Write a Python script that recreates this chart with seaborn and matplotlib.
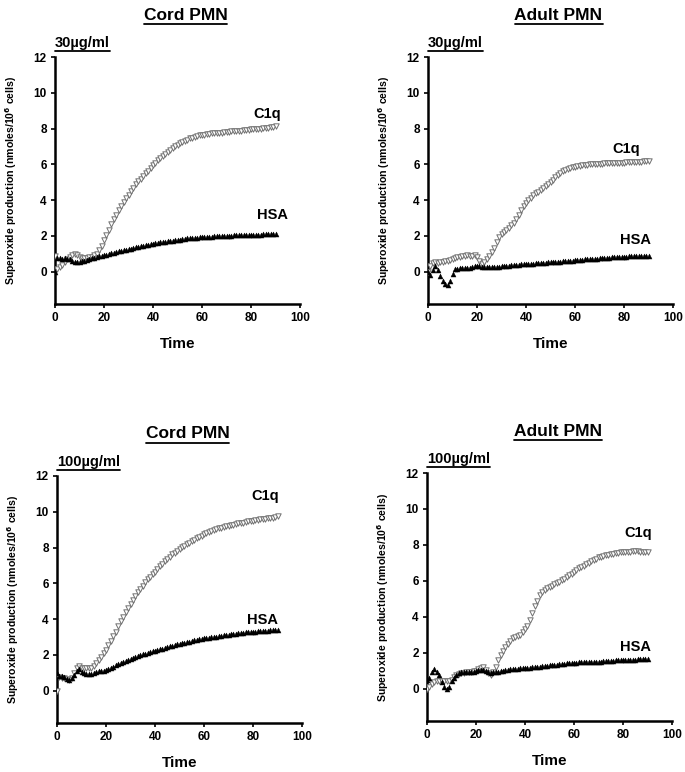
import matplotlib
matplotlib.use("Agg")
import matplotlib.pyplot as plt
from matplotlib.lines import Line2D
import seaborn as sns

# -----------------------------
# Data
# -----------------------------
time = list(range(0, 91))

cord30_c1q = [0.9, 0.15, 0.25, 0.4, 0.55, 0.7, 0.85, 0.95, 1.02, 0.95,
              0.85, 0.78, 0.75, 0.77, 0.8, 0.85, 0.92, 1.0, 1.2, 1.45,
              1.75, 2.05, 2.35, 2.65, 2.95, 3.2, 3.45, 3.7, 3.9, 4.1,
              4.3, 4.5, 4.7, 4.9, 5.05, 5.2, 5.35, 5.5, 5.65, 5.8,
              5.95, 6.1, 6.22, 6.35, 6.48, 6.6, 6.72, 6.83, 6.93, 7.02,
              7.1, 7.18, 7.25, 7.32, 7.38, 7.45, 7.5, 7.55, 7.6, 7.62,
              7.65, 7.67, 7.7, 7.72, 7.74, 7.75, 7.77, 7.78, 7.78, 7.8,
              7.8, 7.82, 7.84, 7.85, 7.86, 7.88, 7.88, 7.9, 7.92, 7.93,
              7.95, 7.96, 7.98, 7.98, 8.0, 8.02, 8.04, 8.06, 8.08, 8.1,
              8.15]
cord30_hsa = [0.0, 0.75, 0.75, 0.74, 0.75, 0.74, 0.73, 0.6, 0.55, 0.55,
              0.56, 0.58, 0.62, 0.66, 0.7, 0.75, 0.78, 0.82, 0.86, 0.9,
              0.93, 0.96, 1.0, 1.03, 1.07, 1.1, 1.14, 1.17, 1.2, 1.24,
              1.27, 1.3, 1.33, 1.36, 1.39, 1.42, 1.45, 1.48, 1.5, 1.53,
              1.56, 1.59, 1.61, 1.64, 1.66, 1.68, 1.7, 1.72, 1.74, 1.76,
              1.78, 1.8, 1.82, 1.84, 1.86, 1.88, 1.88, 1.9, 1.91, 1.92,
              1.93, 1.94, 1.95, 1.96, 1.97, 1.98, 1.98, 1.99, 2.0, 2.0,
              2.01, 2.02, 2.02, 2.03, 2.03, 2.04, 2.04, 2.05, 2.05, 2.06,
              2.06, 2.07, 2.07, 2.08, 2.08, 2.1, 2.09, 2.1, 2.1, 2.11,
              2.12]

adult30_c1q = [0.0, 0.35, 0.5, 0.52, 0.5, 0.52, 0.55, 0.58, 0.62, 0.66,
               0.7, 0.75, 0.8, 0.85, 0.9, 0.9, 0.92, 0.9, 0.88, 0.92,
               0.85, 0.6, 0.45, 0.55, 0.72, 0.9, 1.1, 1.35, 1.65, 1.95,
               2.1, 2.25, 2.35, 2.45, 2.6, 2.75, 2.95, 3.2, 3.45, 3.7,
               3.85, 4.0, 4.15, 4.28, 4.38, 4.48, 4.58, 4.68, 4.78, 4.9,
               5.02, 5.15, 5.3, 5.42, 5.52, 5.62, 5.7, 5.75, 5.8, 5.85,
               5.88, 5.9, 5.92, 5.94, 5.96, 5.98, 6.0, 6.0, 6.01, 6.02,
               6.03, 6.04, 6.05, 6.05, 6.06, 6.07, 6.08, 6.08, 6.09, 6.1,
               6.1, 6.11, 6.12, 6.12, 6.13, 6.14, 6.15, 6.16, 6.17, 6.18,
               6.2]
adult30_hsa = [0.0, -0.2, 0.1, 0.3, 0.1, -0.25, -0.5, -0.68, -0.72, -0.5,
               -0.15, 0.15, 0.18, 0.2, 0.2, 0.2, 0.22, 0.22, 0.25, 0.3,
               0.32, 0.3, 0.28, 0.25, 0.25, 0.24, 0.24, 0.24, 0.25, 0.28,
               0.3, 0.32, 0.33, 0.35, 0.36, 0.38, 0.39, 0.4, 0.41, 0.42,
               0.43, 0.44, 0.45, 0.46, 0.47, 0.48, 0.49, 0.5, 0.51, 0.52,
               0.53, 0.54, 0.55, 0.56, 0.57, 0.58, 0.6, 0.61, 0.62, 0.63,
               0.65, 0.66, 0.67, 0.68, 0.69, 0.7, 0.71, 0.72, 0.73, 0.74,
               0.75, 0.76, 0.77, 0.78, 0.79, 0.8, 0.81, 0.82, 0.83, 0.84,
               0.85, 0.85, 0.86, 0.86, 0.87, 0.87, 0.88, 0.88, 0.89, 0.9,
               0.9]

cord100_c1q = [0.0, 0.75, 0.72, 0.7, 0.65, 0.6, 0.7, 1.0, 1.3, 1.4,
               1.3, 1.25, 1.25, 1.25, 1.3, 1.4, 1.55, 1.7, 1.9, 2.1,
               2.3, 2.55, 2.8, 3.05, 3.3, 3.6, 3.9, 4.15, 4.4, 4.65,
               4.85, 5.1, 5.3, 5.5, 5.7, 5.88, 6.05, 6.22, 6.38, 6.52,
               6.66, 6.8, 6.95, 7.1, 7.25, 7.38, 7.5, 7.62, 7.72, 7.82,
               7.92, 8.02, 8.11, 8.2, 8.28, 8.36, 8.45, 8.53, 8.6, 8.67,
               8.74, 8.8, 8.86, 8.92, 8.97, 9.02, 9.07, 9.11, 9.15, 9.19,
               9.23, 9.26, 9.29, 9.32, 9.35, 9.37, 9.4, 9.43, 9.46, 9.48,
               9.5, 9.53, 9.55, 9.58, 9.6, 9.62, 9.64, 9.66, 9.68, 9.72,
               9.75]
cord100_hsa = [1.0, 0.85, 0.8, 0.75, 0.65, 0.6, 0.7, 0.9, 1.1, 1.2,
               1.05, 0.98, 0.95, 0.95, 0.95, 1.0, 1.05, 1.08, 1.1, 1.12,
               1.15, 1.2, 1.27, 1.35, 1.42, 1.5, 1.56, 1.62, 1.68, 1.74,
               1.8, 1.85, 1.9, 1.95, 2.0, 2.04, 2.08, 2.12, 2.16, 2.2,
               2.24, 2.28, 2.32, 2.36, 2.4, 2.44, 2.48, 2.52, 2.56, 2.6,
               2.63, 2.66, 2.69, 2.72, 2.75, 2.78, 2.81, 2.84, 2.87, 2.9,
               2.93, 2.95, 2.97, 2.99, 3.01, 3.03, 3.05, 3.07, 3.09, 3.11,
               3.13, 3.15, 3.17, 3.19, 3.21, 3.23, 3.24, 3.26, 3.27, 3.28,
               3.3, 3.31, 3.32, 3.33, 3.34, 3.35, 3.36, 3.37, 3.38, 3.39,
               3.4]

adult100_c1q = [0.0, 0.1, 0.25, 0.35, 0.4, 0.4, 0.4, 0.4, 0.42, 0.42,
                0.5, 0.65, 0.75, 0.8, 0.85, 0.88, 0.9, 0.92, 0.95, 0.97,
                1.0, 1.08, 1.15, 1.2, 1.05, 0.85, 0.75, 0.95, 1.2, 1.6,
                1.9, 2.1, 2.3, 2.5, 2.65, 2.8, 2.85, 2.92, 3.0, 3.15,
                3.3, 3.5, 3.8, 4.2, 4.6, 4.9, 5.2, 5.4, 5.5, 5.58,
                5.65, 5.72, 5.8, 5.88, 5.95, 6.02, 6.1, 6.2, 6.3, 6.4,
                6.5, 6.6, 6.7, 6.78, 6.85, 6.92, 7.0, 7.08, 7.15, 7.22,
                7.3, 7.35, 7.4, 7.43, 7.46, 7.5, 7.52, 7.54, 7.56, 7.58,
                7.6, 7.61, 7.62, 7.63, 7.64, 7.65, 7.64, 7.63, 7.62, 7.61,
                7.6]
adult100_hsa = [0.5, 0.6, 0.9, 1.1, 0.9, 0.75, 0.35, 0.1, 0.0, 0.1,
                0.4, 0.6, 0.75, 0.85, 0.9, 0.9, 0.9, 0.9, 0.92, 0.95,
                1.0, 1.03, 1.05, 1.03, 1.0, 0.9, 0.85, 0.9, 0.95, 0.95,
                0.97, 1.0, 1.02, 1.05, 1.07, 1.1, 1.11, 1.12, 1.13, 1.14,
                1.15, 1.16, 1.17, 1.19, 1.2, 1.22, 1.23, 1.25, 1.27, 1.28,
                1.3, 1.31, 1.33, 1.34, 1.36, 1.37, 1.39, 1.4, 1.42, 1.43,
                1.45, 1.45, 1.46, 1.46, 1.47, 1.47, 1.48, 1.48, 1.49, 1.49,
                1.5, 1.51, 1.52, 1.53, 1.54, 1.55, 1.56, 1.57, 1.58, 1.59,
                1.6, 1.6, 1.61, 1.61, 1.62, 1.62, 1.63, 1.63, 1.64, 1.64,
                1.65]

titles = ["Cord PMN", "Adult PMN", "Cord PMN", "Adult PMN"]
doses = ["30µg/ml", "30µg/ml", "100µg/ml", "100µg/ml"]
c1q_series = [cord30_c1q, adult30_c1q, cord100_c1q, adult100_c1q]
hsa_series = [cord30_hsa, adult30_hsa, cord100_hsa, adult100_hsa]
# label positions (data coords) for C1q / HSA
c1q_pos = [(86.5, 8.8), (81, 6.85), (85, 10.9), (86, 8.65)]
hsa_pos = [(88.6, 3.2), (84.5, 1.8), (84, 3.95), (85, 2.3)]

# -----------------------------
# Figure
# -----------------------------
sns.set_style("white")
plt.rcParams["font.family"] = ["Liberation Sans", "DejaVu Sans"]
plt.rcParams["font.weight"] = "bold"
plt.rcParams["text.color"] = "black"
plt.rcParams["axes.labelcolor"] = "black"
plt.rcParams["xtick.color"] = "black"
plt.rcParams["ytick.color"] = "black"

fig = plt.figure(figsize=(6.85, 7.72), dpi=100)
W, H = 685, 772
# axes boxes in pixels: left, top, right, bottom
boxes = [(55, 57, 300, 304), (428, 57, 673, 304),
         (57, 476, 302, 723), (427, 473, 672, 721)]

underline_texts = []
for i, (l, t, r, b) in enumerate(boxes):
    ax = fig.add_axes([l / W, 1 - b / H, (r - l) / W, (b - t) / H])
    sns.scatterplot(x=time, y=c1q_series[i], ax=ax, marker="v", s=15,
                    facecolor="white", edgecolor="#707070", linewidth=0.7, zorder=3)
    sns.scatterplot(x=time, y=hsa_series[i], ax=ax, marker="^", s=13,
                    color="black", edgecolor="black", linewidth=0.3, zorder=4)
    ax.set_xlim(0, 100)
    ax.set_ylim(-1.8, 12)
    ax.set_xticks([0, 20, 40, 60, 80, 100])
    ax.set_yticks([0, 2, 4, 6, 8, 10, 12])
    ax.tick_params(direction="out", length=3, width=1.2, labelsize=8.5, pad=3,
                   left=True, bottom=True, colors="black")
    for lab in ax.get_xticklabels() + ax.get_yticklabels():
        lab.set_fontweight("bold")
    sns.despine(ax=ax)
    for sp in ["left", "bottom"]:
        ax.spines[sp].set_linewidth(1.8)
        ax.spines[sp].set_color("black")
    ax.set_xlabel("Time", fontsize=11, fontweight="bold", labelpad=9)
    ax.set_ylabel(r"Superoxide production (nmoles/10$^{\mathbf{6}}$ cells)",
                  fontsize=7.6, fontweight="bold")
    ax.yaxis.set_label_coords(-0.145, 0.5)
    ax.text(c1q_pos[i][0], c1q_pos[i][1], "C1q", fontsize=10.5, fontweight="bold",
            ha="center", va="center")
    ax.text(hsa_pos[i][0], hsa_pos[i][1], "HSA", fontsize=10.5, fontweight="bold",
            ha="center", va="center")
    # dose label above the axes
    d = ax.text(0.0, 1.03, doses[i], transform=ax.transAxes, fontsize=10.5,
                fontweight="bold", ha="left", va="bottom")
    underline_texts.append(d)
    # panel title
    cx = (l + r) / 2 + 8
    ty = t - 42
    tt = fig.text(cx / W, 1 - ty / H, titles[i], fontsize=12.5, fontweight="bold",
                  ha="center", va="center")
    underline_texts.append(tt)

# underline titles and dose labels
fig.canvas.draw()
renderer = fig.canvas.get_renderer()
for txt in underline_texts:
    bb = txt.get_window_extent(renderer=renderer)
    y = bb.y0 - 1.0
    fig.add_artist(Line2D([bb.x0 / W, bb.x1 / W], [y / H, y / H],
                          transform=fig.transFigure, color="black", linewidth=1.3))

fig.savefig("out.png", dpi=100)
